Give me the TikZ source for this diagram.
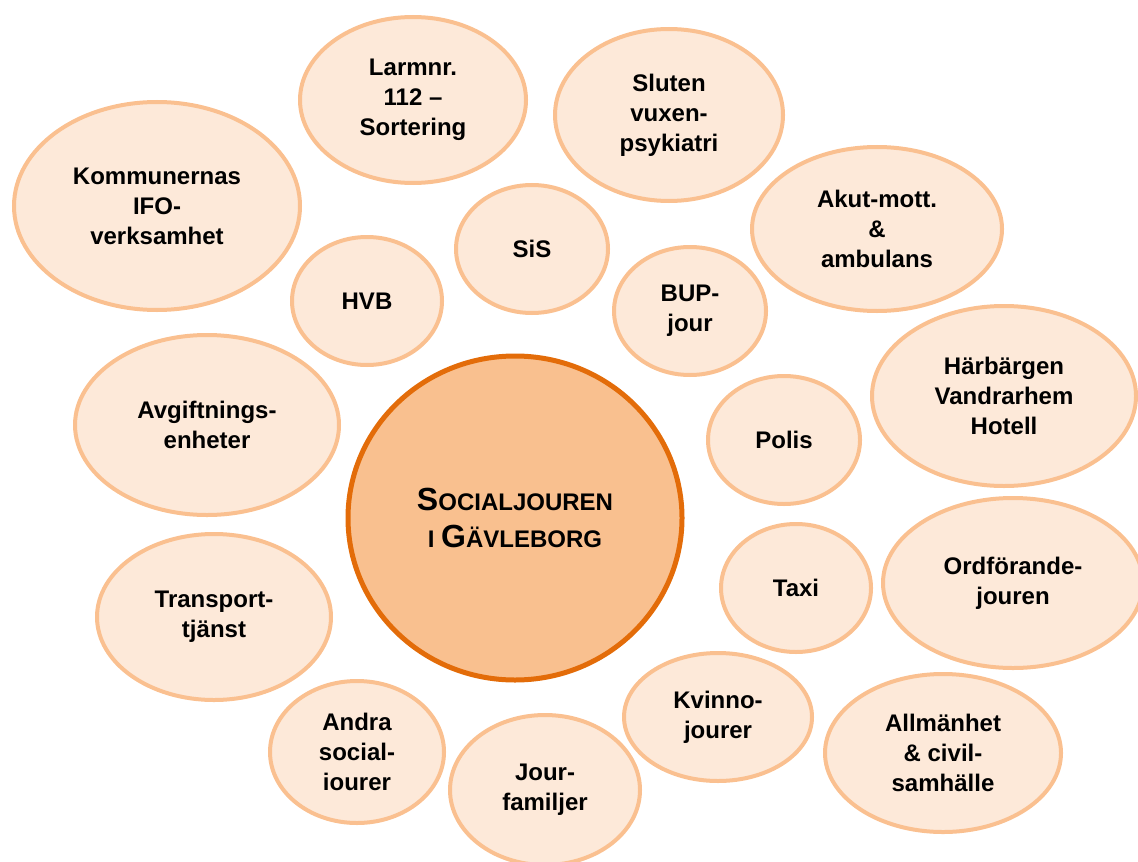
\documentclass[tikz,border=0pt]{standalone}
\usepackage{fontspec}
\setmainfont{Liberation Sans}
\usepackage{xcolor}
\usepackage{tikz}
\usetikzlibrary{shapes.geometric}
\definecolor{bubblefill}{RGB}{253,233,217}
\definecolor{bubbleline}{RGB}{250,192,144}
\definecolor{hubfill}{RGB}{249,192,143}
\definecolor{hubline}{RGB}{227,108,9}
\tikzset{
  bubble/.style={ellipse, draw=bubbleline, fill=bubblefill, line width=2pt,
                 inner sep=0pt, align=center, text=black,
                 font=\fontsize{12}{15}\selectfont\bfseries},
  hub/.style   ={bubble, draw=hubline, fill=hubfill, line width=2.5pt,
                 font=\fontsize{12}{18.5}\selectfont\bfseries},
}
\newcommand{\hubcap}[1]{{\fontsize{16}{18.5}\selectfont #1}}

\begin{document}
\begin{tikzpicture}[x=0.5pt, y=-0.5pt]
\clip (0,0) rectangle (1138,861);
% centre
\node[hub, minimum width=167pt, minimum height=162pt] (hub) at (515,518)
  {\hubcap{S}OCIALJOUREN\\I \hubcap{G}ÄVLEBORG};
% surrounding partners
\foreach \n/\x/\y/\rx/\ry/\txt in {larm/413/100/115/85/{Larmnr.\\112 --\\Sortering},
                                   sluten/669/115/116/88/{Sluten\\vuxen-\\psykiatri},
                                   ifo/157/206/145/106/{Kommunernas\\IFO-\\verksamhet},
                                   sis/532/249/78/66/{SiS},
                                   hvb/367/301/77/66/{HVB},
                                   akut/877/229/127/84/{Akut-mott.\\\&\\ambulans},
                                   bup/690/311/78/66/{BUP-\\jour},
                                   harb/1004/396/134/92/{Härbärgen\\Vandrarhem\\Hotell},
                                   avg/207/425/134/92/{Avgiftnings-\\enheter},
                                   polis/784/440/78/66/{Polis},
                                   transp/214/617/119/85/{Transport-\\tjänst},
                                   taxi/796/588/77/66/{Taxi},
                                   ordf/1013/583/132/87/{Ordförande-\\jouren},
                                   andra/357/752/89/73/{Andra\\social-\\iourer},
                                   kvinno/718/717/96/66/{Kvinno-\\jourer},
                                   allm/943/753/120/81/{Allmänhet\\\& civil-\\samhälle},
                                   jour/545/790/97/77/{Jour-\\familjer}} {
  \node[bubble, minimum width=\rx*1pt-2pt, minimum height=\ry*1pt-2pt] (\n) at (\x,\y) {\txt};
}
\end{tikzpicture}
\end{document}
